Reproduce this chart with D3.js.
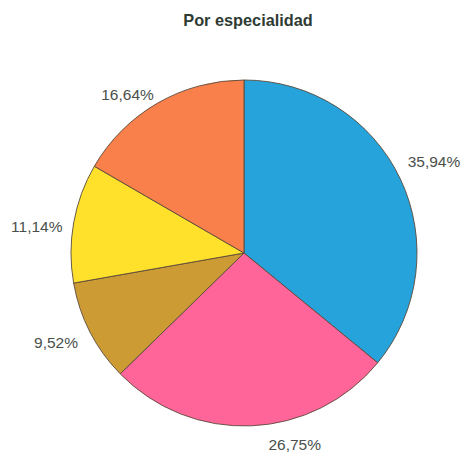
<!DOCTYPE html>
<html>
<head>
<meta charset="utf-8">
<script src="https://cdn.jsdelivr.net/npm/d3@7"></script>
<style>
  html, body { margin: 0; padding: 0; background: #ffffff; }
  svg { display: block; }
</style>
</head>
<body>
<svg id="chart" width="464" height="453"></svg>
<script>
// ---- data ----
const categories = ["A", "B", "C", "D", "E"];
const values = [35.94, 26.75, 9.52, 11.14, 16.64];
const labels = ["35,94%", "26,75%", "9,52%", "11,14%", "16,64%"];
const colors = ["#27A3DC", "#FF6598", "#CD9B34", "#FFE12C", "#F9804B"];

// ---- layout (label placement tweaks, degrees / px) ----
const labelAngleShift = [-0.5, -12.4, 1.8, -2.6, -6.3];
const labelRadius = [211, 198, 208, 209, 197];

const svg = d3.select("#chart");
const cx = 244, cy = 253, R = 173;

svg.append("text")
  .attr("x", 248).attr("y", 26)
  .attr("text-anchor", "middle")
  .attr("font-family", "Liberation Sans, Arial, sans-serif")
  .attr("font-weight", "bold")
  .attr("font-size", 16.3)
  .attr("fill", "#2E3B33")
  .text("Por especialidad");

const pie = d3.pie().sort(null).value(d => d)(values);
const arc = d3.arc().innerRadius(0).outerRadius(R);

const g = svg.append("g").attr("transform", `translate(${cx},${cy})`);

g.selectAll("path")
  .data(pie)
  .join("path")
  .attr("d", arc)
  .attr("fill", (d, i) => colors[i])
  .attr("stroke", "#5a4a3a")
  .attr("stroke-width", 0.9);

g.selectAll("text")
  .data(pie)
  .join("text")
  .attr("x", (d, i) => {
    const a = (d.startAngle + d.endAngle) / 2 + labelAngleShift[i] * Math.PI / 180;
    return labelRadius[i] * Math.sin(a);
  })
  .attr("y", (d, i) => {
    const a = (d.startAngle + d.endAngle) / 2 + labelAngleShift[i] * Math.PI / 180;
    return -labelRadius[i] * Math.cos(a);
  })
  .attr("dy", "0.36em")
  .attr("text-anchor", "middle")
  .attr("font-family", "Liberation Sans, Arial, sans-serif")
  .attr("font-size", 15.5)
  .attr("fill", "#4a4f4c")
  .text((d, i) => labels[i]);
</script>
</body>
</html>
